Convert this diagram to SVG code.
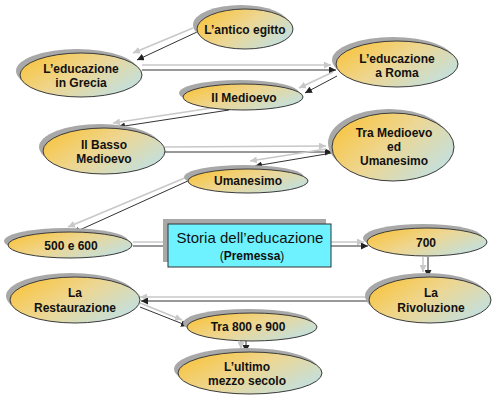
<svg xmlns="http://www.w3.org/2000/svg" width="500" height="403" viewBox="0 0 500 403">
<defs>
<linearGradient id="g" x1="0" y1="0.2" x2="1" y2="0.8">
<stop offset="0" stop-color="#f8c43e"/>
<stop offset="0.45" stop-color="#eed690"/>
<stop offset="1" stop-color="#bfe1e6"/>
</linearGradient>
<marker id="ad" markerUnits="userSpaceOnUse" markerWidth="8" markerHeight="7" refX="7" refY="3.5" orient="auto">
<path d="M0,0 L7,3.5 L0,7 z" fill="#222"/>
</marker>
<marker id="al" markerUnits="userSpaceOnUse" markerWidth="8" markerHeight="7" refX="7" refY="3.5" orient="auto">
<path d="M0,0 L7,3.5 L0,7 z" fill="#c8c8c8"/>
</marker>
</defs>
<style>
.sh{fill:#a8a8a8}
.el{fill:url(#g);stroke:#3a3a3a;stroke-width:1}
.t{font-family:"Liberation Sans",Arial,sans-serif;font-size:12px;font-weight:bold;fill:#111;text-anchor:middle}
.lt{stroke:#c8c8c8;stroke-width:1.5;fill:none;marker-end:url(#al)}
.dk{stroke:#333;stroke-width:1;fill:none;marker-end:url(#ad)}
.bx{fill:#6ef2ff;stroke:#333;stroke-width:1}
.bt{font-family:"Liberation Sans",Arial,sans-serif;fill:#111;text-anchor:middle}
</style>
<rect width="500" height="403" fill="#fff"/>
<g id="connectors">
<path class="lt" d="M193,28 L133,53"/><path class="dk" d="M197,32 L137,60"/>
<path class="lt" d="M142,65 L331,65"/><path class="dk" d="M142,70 L336,70"/>
<path class="lt" d="M333,72 L299,88"/><path class="dk" d="M337,76 L305,93"/>
<path class="lt" d="M225,106 L113,123"/><path class="dk" d="M229,110 L118,127"/>
<path class="lt" d="M165,147 L326,146"/><path class="dk" d="M165,152 L332,152"/>
<path class="lt" d="M326,149 L250,161"/><path class="dk" d="M332,153 L255,166"/>
<path class="lt" d="M187,177 L68,227"/><path class="dk" d="M190,180 L73,233"/>
<path class="lt" d="M133,242 L364,242"/><path class="dk" d="M133,246 L368,246"/>
<path class="lt" d="M423,257 L423,272"/><path class="dk" d="M428,257 L428,277"/>
<path class="lt" d="M369,297 L140,297"/><path class="dk" d="M369,301 L141,301"/>
<path class="lt" d="M140,303 L182,320"/><path class="dk" d="M140,307 L188,326"/>
<path class="lt" d="M241,341 L241,349"/><path class="dk" d="M246,341 L246,352"/>
</g>
<g id="antico-egitto">
<ellipse class="sh" cx="241" cy="25" rx="48" ry="20"/>
<ellipse class="el" cx="245" cy="29" rx="48" ry="20"/>
<text class="t" x="245" y="34">L’antico egitto</text>
</g>
<g id="grecia">
<ellipse class="sh" cx="77" cy="71" rx="61" ry="22"/>
<ellipse class="el" cx="81" cy="75" rx="61" ry="22"/>
<text class="t" x="81" y="73">L’educazione</text>
<text class="t" x="81" y="87">in Grecia</text>
</g>
<g id="roma">
<ellipse class="sh" cx="393" cy="60" rx="61" ry="23"/>
<ellipse class="el" cx="397" cy="64" rx="61" ry="23"/>
<text class="t" x="397" y="63">L’educazione</text>
<text class="t" x="397" y="77">a Roma</text>
</g>
<g id="medioevo">
<ellipse class="sh" cx="239" cy="93" rx="60" ry="13"/>
<ellipse class="el" cx="243" cy="97" rx="60" ry="13"/>
<text class="t" x="244" y="102">Il Medioevo</text>
</g>
<g id="basso-medioevo">
<ellipse class="sh" cx="100" cy="147" rx="61" ry="23"/>
<ellipse class="el" cx="104" cy="151" rx="61" ry="23"/>
<text class="t" x="104" y="149">Il Basso</text>
<text class="t" x="104" y="163">Medioevo</text>
</g>
<g id="tra-medioevo-umanesimo">
<ellipse class="sh" cx="389" cy="143" rx="61" ry="34"/>
<ellipse class="el" cx="393" cy="147" rx="61" ry="34"/>
<text class="t" x="394" y="137">Tra Medioevo</text>
<text class="t" x="394" y="151">ed</text>
<text class="t" x="394" y="165">Umanesimo</text>
</g>
<g id="umanesimo">
<ellipse class="sh" cx="244" cy="177" rx="60" ry="12"/>
<ellipse class="el" cx="248" cy="181" rx="60" ry="12"/>
<text class="t" x="248" y="185">Umanesimo</text>
</g>
<g id="cinquecento-seicento">
<ellipse class="sh" cx="66" cy="241" rx="62" ry="13"/>
<ellipse class="el" cx="70" cy="245" rx="62" ry="13"/>
<text class="t" x="71" y="250">500 e 600</text>
</g>
<g id="premessa">
<rect x="163" y="219" width="163" height="43" fill="#a8a8a8"/>
<rect class="bx" x="168" y="224" width="163" height="43"/>
<text class="bt" x="250" y="243" font-size="15">Storia dell’educazione</text>
<text class="bt" x="252" y="260" font-size="12">(<tspan font-weight="bold">Premessa</tspan>)</text>
</g>
<g id="settecento">
<ellipse class="sh" cx="423" cy="238" rx="60" ry="14"/>
<ellipse class="el" cx="427" cy="242" rx="60" ry="14"/>
<text class="t" x="426" y="247">700</text>
</g>
<g id="rivoluzione">
<ellipse class="sh" cx="426" cy="296" rx="61" ry="23"/>
<ellipse class="el" cx="430" cy="300" rx="61" ry="23"/>
<text class="t" x="431" y="297">La</text>
<text class="t" x="431" y="312">Rivoluzione</text>
</g>
<g id="restaurazione">
<ellipse class="sh" cx="71" cy="296" rx="65" ry="23"/>
<ellipse class="el" cx="75" cy="300" rx="65" ry="23"/>
<text class="t" x="75" y="297">La</text>
<text class="t" x="75" y="312">Restaurazione</text>
</g>
<g id="ottocento-novecento">
<ellipse class="sh" cx="248" cy="323" rx="65" ry="14"/>
<ellipse class="el" cx="252" cy="327" rx="65" ry="14"/>
<text class="t" x="248" y="331">Tra 800 e 900</text>
</g>
<g id="ultimo-mezzo-secolo">
<ellipse class="sh" cx="246" cy="369" rx="72" ry="21"/>
<ellipse class="el" cx="250" cy="373" rx="72" ry="21"/>
<text class="t" x="247" y="371">L’ultimo</text>
<text class="t" x="247" y="385">mezzo secolo</text>
</g>
</svg>
